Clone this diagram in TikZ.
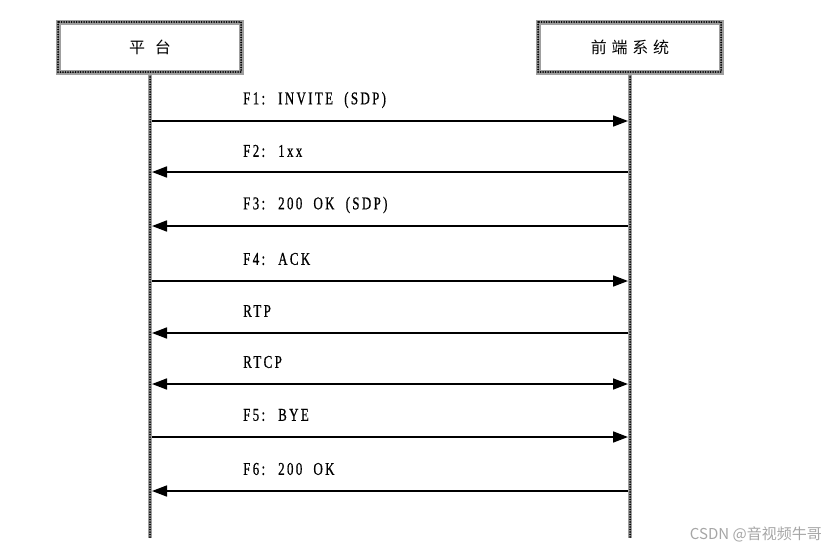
\documentclass[tikz,border=0pt]{standalone}
\usepackage{fontspec}
\setmainfont{Liberation Serif}
\newfontfamily\cjk{Noto Sans CJK SC}
\newfontfamily\lab[FakeStretch=0.72,LetterSpace=13,WordSpace=2.0,FakeBold=0.6]{Liberation Serif}
\usetikzlibrary{arrows.meta}
\begin{document}
\begin{tikzpicture}[x=1pt,y=-1pt,
  hatch/.style={draw=gray!75,line width=5pt},
  dots/.style={draw=black,line width=2pt,line cap=round,dash pattern=on 0pt off 2.5pt},
  msg/.style={line width=1.7pt,-{Triangle[length=15pt,width=11pt]}},
  lbl/.style={anchor=west,inner sep=0pt,font=\lab\fontsize{18}{18}\selectfont},
  ttl/.style={inner sep=0pt,font=\cjk\fontsize{16}{16}\selectfont}]
\useasboundingbox (0,0) rectangle (837,554);
\fill[white] (0,0) rectangle (837,554);
% lifelines
\coordinate (ltop) at (150,72); \coordinate (lbot) at (150,538);
\coordinate (rtop) at (630,72); \coordinate (rbot) at (630,538);
\draw[hatch,line width=4pt] (ltop) -- (lbot);
\draw[dots] (ltop) -- (lbot);
\draw[hatch,line width=4pt] (rtop) -- (rbot);
\draw[dots] (rtop) -- (rbot);
% boxes
\fill[white] (58,22) rectangle (241,72);
\fill[white] (538,22) rectangle (721,72);
\draw[hatch] (58,22) rectangle (241,72);
\draw[dots] (58,22) rectangle (241,72);
\draw[hatch] (538,22) rectangle (721,72);
\draw[dots] (538,22) rectangle (721,72);
\node[ttl] (plat) at (150,47) {平\hspace{0.6em}台};
\node[ttl] (fe) at (630,47) {前\hspace{0.3em}端\hspace{0.3em}系\hspace{0.3em}统};
% anchor points
\foreach \n/\y in {1/121,2/172,3/226,4/281,5/333,6/384,7/437,8/491}{
  \coordinate (L\n) at (152,\y);
  \coordinate (R\n) at (628,\y);
}
\draw[msg] (L1) -- (R1);
\draw[msg] (R2) -- (L2);
\draw[msg] (R3) -- (L3);
\draw[msg] (L4) -- (R4);
\draw[msg] (R5) -- (L5);
\draw[msg,{Triangle[length=15pt,width=11pt]}-{Triangle[length=15pt,width=11pt]}] (L6) -- (R6);
\draw[msg] (L7) -- (R7);
\draw[msg] (R8) -- (L8);
\node[lbl] (m1) at (243,100) {F1: INVITE (SDP)};
\node[lbl] (m2) at (243,151) {F2: 1xx};
\node[lbl] (m3) at (243,205) {F3: 200 OK (SDP)};
\node[lbl] (m4) at (243,259) {F4: ACK};
\node[lbl] (m5) at (243,311) {RTP};
\node[lbl] (m6) at (243,362) {RTCP};
\node[lbl] (m7) at (243,415) {F5: BYE};
\node[lbl] (m8) at (243,469) {F6: 200 OK};
% watermark
\node[anchor=east,inner sep=0pt,text=gray!70,font=\cjk\fontsize{15}{15}\selectfont] (wm) at (822,534) {CSDN @音视频牛哥};
\end{tikzpicture}
\end{document}
